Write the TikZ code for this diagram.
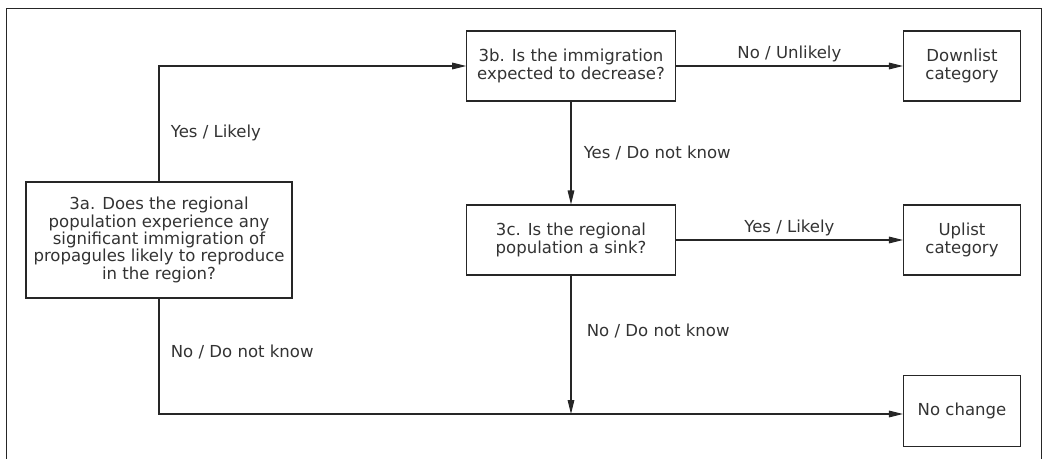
\documentclass[tikz,border=0pt]{standalone}
\usepackage{fontspec}
\setmainfont{DejaVu Sans}
\usepackage{xcolor}
\usepackage{tikz}
\usetikzlibrary{arrows.meta,positioning}
\definecolor{lineGray}{HTML}{262626}
\definecolor{textGray}{HTML}{333333}
\tikzset {
	question/.style={rectangle, draw=lineGray, line width=.8pt, align=center, inner sep=0pt,
					font=\fontsize{12.4}{13.1}\selectfont, text=textGray,
					minimum width=156.4pt, minimum height=52.5pt},
	outcome/.style={question, minimum width=87.75pt},
	answer/.style={inner sep=0pt, font=\fontsize{12.4}{13.1}\selectfont, text=textGray},
	flowLine/.style={draw=lineGray, line width=.8pt, -{Triangle[length=10.5pt, width=5pt]}},
	frameLine/.style={draw=lineGray, line width=.75pt}
}

\begin{document}
\begin{tikzpicture}[x=.75pt, y=-.75pt]
					\useasboundingbox (0,0) rectangle (1043,458);
					\draw[frameLine] (6.5,470) |- (1041.7,8.3) -- (1041.7,470);
					\node [question, minimum width=199.5pt, minimum height=87pt,
						font=\fontsize{12.4}{11.6}\selectfont] (q3a) at (159,240)
						{3a. Does the regional\\population experience any\\significant immigration of\\propagules likely to reproduce\\in the region?};
					\node [question] (q3b) at (571,66) {3b. Is the immigration\\expected to decrease?};
					\node [question] (q3c) at (571,240) {3c. Is the regional\\population a sink?};
					\node [outcome] (down) at (962,66) {Downlist\\category};
					\node [outcome] (up) at (962,240) {Uplist\\category};
					\node [outcome, minimum height=52.7pt] (nochange) at (962,411) {No change};
					\coordinate (merge) at (571,414);
					\draw [flowLine] (q3a.north) |- node [answer, pos=.21, right=8.5pt] {Yes / Likely} (q3b.west);
					\draw [flowLine] (q3a.south) |- node [answer, pos=.23, right=8.5pt] {No / Do not know} (nochange.west |- merge);
					\draw [flowLine] (q3b.east) -- node [answer, above=2.5pt] {No / Unlikely} (down.west);
					\draw [flowLine] (q3b.south) -- node [answer, right=9.2pt] {Yes / Do not know} (q3c.north);
					\draw [flowLine] (q3c.east) -- node [answer, above=2.5pt] {Yes / Likely} (up.west);
					\draw [flowLine] (q3c.south) -- node [answer, pos=.4, right=11.5pt] {No / Do not know} (merge);
					\end{tikzpicture}
\end{document}
